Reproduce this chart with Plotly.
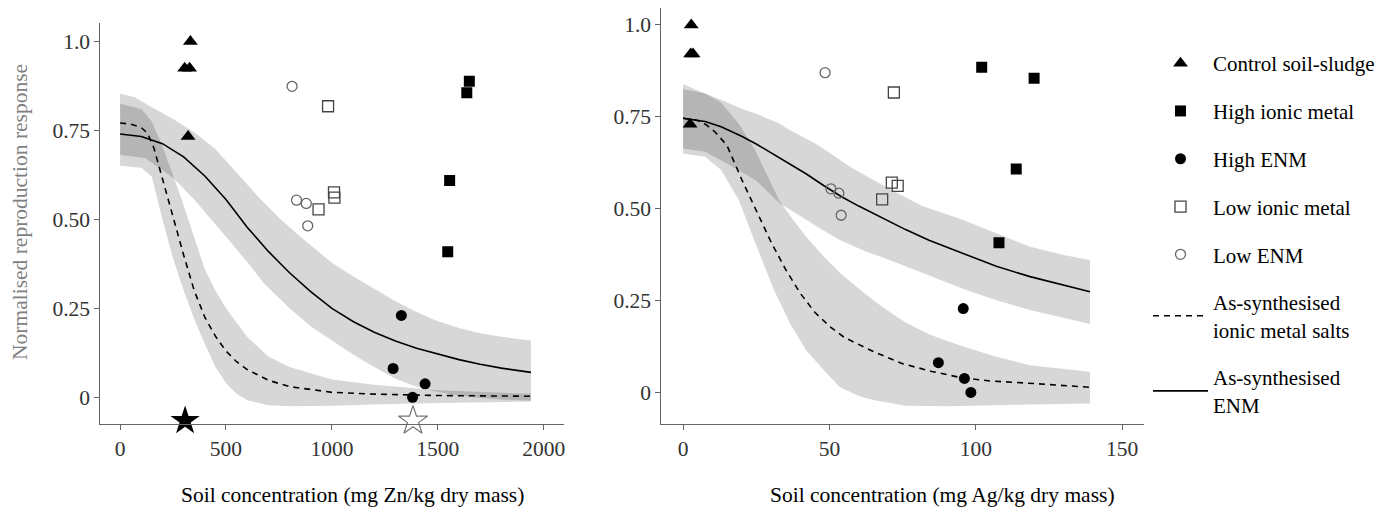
import plotly.graph_objects as go

# ---------------- Zn panel (left) ----------------
zn_ctrl_x = [332, 305, 328, 321]
zn_ctrl_y = [1.0, 0.925, 0.925, 0.733]
zn_hi_ion_x = [1649, 1637, 1556, 1547]
zn_hi_ion_y = [0.888, 0.856, 0.609, 0.409]
zn_hi_enm_x = [1328, 1289, 1440, 1381]
zn_hi_enm_y = [0.230, 0.081, 0.038, 0.0]
zn_lo_ion_x = [982, 937, 1010, 1012]
zn_lo_ion_y = [0.818, 0.528, 0.576, 0.561]
zn_lo_enm_x = [812, 833, 879, 886]
zn_lo_enm_y = [0.874, 0.554, 0.545, 0.482]
zn_star_x = [307, 1383]
zn_star_y = [-0.066, -0.066]

zn_salt_x = [0, 50, 100, 130, 160, 200, 250, 300, 350, 400, 450, 500, 550, 600, 700, 800, 1000, 1200, 1500, 1940]
zn_salt_y = [0.771, 0.768, 0.758, 0.742, 0.700, 0.612, 0.510, 0.400, 0.300, 0.225, 0.172, 0.130, 0.100, 0.078, 0.048, 0.030, 0.014, 0.009, 0.005, 0.003]
zn_salt_up_x = [0, 100, 150, 200, 250, 300, 350, 400, 450, 500, 600, 700, 800, 1000, 1200, 1500, 1940]
zn_salt_up_y = [0.825, 0.810, 0.775, 0.705, 0.625, 0.540, 0.450, 0.360, 0.300, 0.250, 0.170, 0.115, 0.085, 0.050, 0.035, 0.020, 0.010]
zn_salt_lo_x = [0, 100, 150, 200, 250, 300, 350, 400, 450, 500, 550, 600, 700, 800, 1000, 1200, 1500, 1940]
zn_salt_lo_y = [0.651, 0.645, 0.620, 0.500, 0.390, 0.300, 0.220, 0.150, 0.085, 0.040, 0.010, -0.008, -0.022, -0.025, -0.024, -0.020, -0.016, -0.012]

zn_enm_x = [0, 100, 200, 300, 400, 500, 600, 700, 800, 900, 1000, 1100, 1200, 1300, 1400, 1500, 1600, 1700, 1800, 1940]
zn_enm_y = [0.740, 0.733, 0.713, 0.676, 0.622, 0.556, 0.478, 0.410, 0.350, 0.297, 0.250, 0.213, 0.183, 0.158, 0.138, 0.121, 0.106, 0.093, 0.082, 0.070]
zn_enm_up_x = [0, 70, 150, 250, 350, 450, 550, 650, 750, 850, 1000, 1100, 1200, 1300, 1400, 1500, 1600, 1700, 1800, 1940]
zn_enm_up_y = [0.853, 0.843, 0.815, 0.782, 0.745, 0.698, 0.632, 0.565, 0.505, 0.452, 0.378, 0.340, 0.305, 0.270, 0.240, 0.214, 0.195, 0.180, 0.170, 0.160]
zn_enm_lo_x = [0, 120, 250, 350, 430, 520, 600, 680, 800, 900, 1000, 1100, 1200, 1300, 1400, 1500, 1600, 1700, 1800, 1940]
zn_enm_lo_y = [0.682, 0.672, 0.617, 0.556, 0.500, 0.437, 0.380, 0.320, 0.250, 0.200, 0.160, 0.120, 0.085, 0.052, 0.030, 0.015, 0.005, -0.002, -0.006, -0.010]

# ---------------- Ag panel (right) ----------------
ag_ctrl_x = [2.8, 2.6, 3.4, 2.4]
ag_ctrl_y = [1.0, 0.921, 0.921, 0.730]
ag_hi_ion_x = [102.0, 119.9, 113.8, 107.9]
ag_hi_ion_y = [0.885, 0.855, 0.608, 0.407]
ag_hi_enm_x = [95.7, 87.2, 96.1, 98.3]
ag_hi_enm_y = [0.228, 0.081, 0.038, 0.0]
ag_lo_ion_x = [72.0, 71.3, 73.3, 68.0]
ag_lo_ion_y = [0.816, 0.571, 0.562, 0.525]
ag_lo_enm_x = [48.5, 50.5, 53.2, 54.0]
ag_lo_enm_y = [0.870, 0.554, 0.542, 0.482]

ag_salt_x = [0, 5, 8, 11, 15, 20, 25, 30, 35, 40, 45, 50, 55, 65, 75, 85, 95, 105, 120, 139]
ag_salt_y = [0.746, 0.740, 0.728, 0.708, 0.672, 0.580, 0.495, 0.410, 0.335, 0.270, 0.218, 0.180, 0.150, 0.111, 0.078, 0.057, 0.040, 0.031, 0.024, 0.014]
ag_salt_up_x = [0, 7.5, 13, 19, 24.5, 29, 33, 38, 42, 48, 54, 60, 65, 70, 76, 84, 91, 96, 107, 118.5, 139]
ag_salt_up_y = [0.825, 0.814, 0.788, 0.732, 0.660, 0.587, 0.520, 0.465, 0.424, 0.370, 0.322, 0.283, 0.251, 0.222, 0.190, 0.158, 0.138, 0.124, 0.097, 0.074, 0.056]
ag_salt_lo_x = [0, 7.5, 13, 19, 24.5, 31, 36.5, 42, 48, 53.5, 60, 65, 76, 91, 110, 139]
ag_salt_lo_y = [0.650, 0.641, 0.605, 0.524, 0.410, 0.279, 0.188, 0.115, 0.061, 0.015, -0.010, -0.021, -0.036, -0.038, -0.034, -0.030]

ag_enm_x = [0, 7.5, 13, 20, 25, 30, 36, 42, 48, 54, 60, 65, 70, 76, 84, 91, 96, 107, 118.5, 130, 139]
ag_enm_y = [0.746, 0.737, 0.723, 0.697, 0.676, 0.652, 0.625, 0.595, 0.563, 0.533, 0.507, 0.487, 0.466, 0.443, 0.414, 0.392, 0.378, 0.343, 0.315, 0.292, 0.274]
ag_enm_up_x = [0, 7, 13, 20, 25, 32.5, 36, 45, 48.5, 57, 69, 81.5, 95.7, 107, 118.5, 130, 139]
ag_enm_up_y = [0.839, 0.815, 0.796, 0.772, 0.758, 0.733, 0.716, 0.678, 0.660, 0.614, 0.560, 0.508, 0.469, 0.433, 0.396, 0.374, 0.360]
ag_enm_lo_x = [0, 7.5, 13, 20, 25, 33, 40, 47, 53.5, 62, 70.5, 84, 91, 96, 107, 118.5, 139]
ag_enm_lo_y = [0.664, 0.655, 0.632, 0.600, 0.576, 0.514, 0.480, 0.445, 0.415, 0.385, 0.360, 0.318, 0.296, 0.281, 0.251, 0.224, 0.186]

y_tickvals = [0, 0.25, 0.5, 0.75, 1.0]
y_ticktext = ["0", "0.25", "0.50", "0.75", "1.0"]
zn_tickvals = [0, 500, 1000, 1500, 2000]
ag_tickvals = [0, 50, 100, 150]

FONT = "Liberation Serif, Times New Roman, Times, serif"
FS = 21.5
BAND = "rgba(0,0,0,0.155)"

fig = go.Figure()


def band(ux, uy, lx, ly, xa, ya):
    fig.add_trace(go.Scatter(
        x=list(ux) + list(reversed(lx)), y=list(uy) + list(reversed(ly)),
        fill="toself", fillcolor=BAND, mode="none", hoverinfo="skip",
        showlegend=False, xaxis=xa, yaxis=ya))


band(zn_enm_up_x, zn_enm_up_y, zn_enm_lo_x, zn_enm_lo_y, "x", "y")
band(zn_salt_up_x, zn_salt_up_y, zn_salt_lo_x, zn_salt_lo_y, "x", "y")
band(ag_enm_up_x, ag_enm_up_y, ag_enm_lo_x, ag_enm_lo_y, "x2", "y2")
band(ag_salt_up_x, ag_salt_up_y, ag_salt_lo_x, ag_salt_lo_y, "x2", "y2")

panels = [
    ("x", "y", True, zn_salt_x, zn_salt_y, zn_enm_x, zn_enm_y,
     [(zn_ctrl_x, zn_ctrl_y), (zn_hi_ion_x, zn_hi_ion_y), (zn_hi_enm_x, zn_hi_enm_y),
      (zn_lo_ion_x, zn_lo_ion_y), (zn_lo_enm_x, zn_lo_enm_y)]),
    ("x2", "y2", False, ag_salt_x, ag_salt_y, ag_enm_x, ag_enm_y,
     [(ag_ctrl_x, ag_ctrl_y), (ag_hi_ion_x, ag_hi_ion_y), (ag_hi_enm_x, ag_hi_enm_y),
      (ag_lo_ion_x, ag_lo_ion_y), (ag_lo_enm_x, ag_lo_enm_y)]),
]

names = ["Control soil-sludge", "High ionic metal", "High ENM", "Low ionic metal", "Low ENM"]
styles = [
    dict(symbol="triangle-up", size=13, color="black", line=dict(width=0)),
    dict(symbol="square", size=11, color="black", line=dict(width=0)),
    dict(symbol="circle", size=11, color="black", line=dict(width=0)),
    dict(symbol="square-open", size=11, color="#444444", line=dict(width=1.3)),
    dict(symbol="circle-open", size=10, color="#666666", line=dict(width=1.3)),
]

for xa, ya, leg, sx, sy, ex, ey, groups in panels:
    fig.add_trace(go.Scatter(x=sx, y=sy, mode="lines", xaxis=xa, yaxis=ya,
                             line=dict(color="black", width=1.6, dash="6px,5px"),
                             name="As-synthesised<br>ionic metal salts",
                             legendgroup="g6", legendrank=6, showlegend=leg))
    fig.add_trace(go.Scatter(x=ex, y=ey, mode="lines", xaxis=xa, yaxis=ya,
                             line=dict(color="black", width=1.6),
                             name="As-synthesised<br>ENM",
                             legendgroup="g7", legendrank=7, showlegend=leg))
    for i, ((gx, gy), nm, st) in enumerate(zip(groups, names, styles)):
        fig.add_trace(go.Scatter(x=gx, y=gy, mode="markers", xaxis=xa, yaxis=ya,
                                 marker=st, name=nm, legendgroup="g%d" % i,
                                 legendrank=i + 1, showlegend=leg))

fig.add_trace(go.Scatter(x=zn_star_x[:1], y=zn_star_y[:1], mode="markers", cliponaxis=False,
                         marker=dict(symbol="star", size=22, color="black", line=dict(width=0)),
                         showlegend=False, xaxis="x", yaxis="y"))
fig.add_trace(go.Scatter(x=zn_star_x[1:], y=zn_star_y[1:], mode="markers", cliponaxis=False,
                         marker=dict(symbol="star-open", size=22, color="#777777", line=dict(width=1.2)),
                         showlegend=False, xaxis="x", yaxis="y"))

# page body has an 8px margin: figure is drawn 8px in from the window edge
OFF = 8
W, H = 1386 - 2 * OFF, 524 - 2 * OFF


def px(p):
    return min(1.0, max(0.0, (p - OFF) / W))


def py(p):
    return min(1.0, max(0.0, 1 - (p - OFF) / H))


axis_common = dict(showline=True, linecolor="#666666", linewidth=1.2, ticks="outside",
                   ticklen=5, tickcolor="#666666", tickwidth=1.2, showgrid=False, zeroline=False,
                   tickfont=dict(family=FONT, size=FS, color="#333333"))

fig.update_layout(
    width=W, height=H, margin=dict(l=0, r=0, t=0, b=0, autoexpand=False),
    paper_bgcolor="white", plot_bgcolor="white",
    font=dict(family=FONT, size=FS, color="black"),
    xaxis=dict(domain=[px(100.4), px(564)], range=[-93, 2096], tickvals=zn_tickvals,
               anchor="y", **axis_common),
    yaxis=dict(domain=[py(424), py(23)], range=[-0.075, 1.052], tickvals=y_tickvals,
               ticktext=y_ticktext, anchor="x", **axis_common),
    xaxis2=dict(domain=[px(661.4), px(1143.6)], range=[-7.4, 157.3], tickvals=ag_tickvals,
                anchor="y2", **axis_common),
    yaxis2=dict(domain=[py(424), py(8)], range=[-0.086, 1.046], tickvals=y_tickvals,
                ticktext=y_ticktext, anchor="x2", **axis_common),
    legend=dict(x=px(1148), y=py(43), xanchor="left", yanchor="top",
                font=dict(family=FONT, size=21, color="black"), itemwidth=55,
                tracegroupgap=17.5, bgcolor="rgba(0,0,0,0)", traceorder="grouped"),
    showlegend=True,
    annotations=[
        dict(text="Soil concentration (mg Zn/kg dry mass)", x=px(352), y=py(495),
             xref="paper", yref="paper", showarrow=False, xanchor="center", yanchor="middle",
             font=dict(family=FONT, size=FS, color="black")),
        dict(text="Soil concentration (mg Ag/kg dry mass)", x=px(942), y=py(495),
             xref="paper", yref="paper", showarrow=False, xanchor="center", yanchor="middle",
             font=dict(family=FONT, size=FS, color="black")),
        dict(text="Normalised reproduction response", x=px(20), y=py(212),
             xref="paper", yref="paper", showarrow=False, xanchor="center", yanchor="middle",
             textangle=-90, font=dict(family=FONT, size=FS, color="#7f7f7f")),
    ],
)

fig.write_html("out.html")
